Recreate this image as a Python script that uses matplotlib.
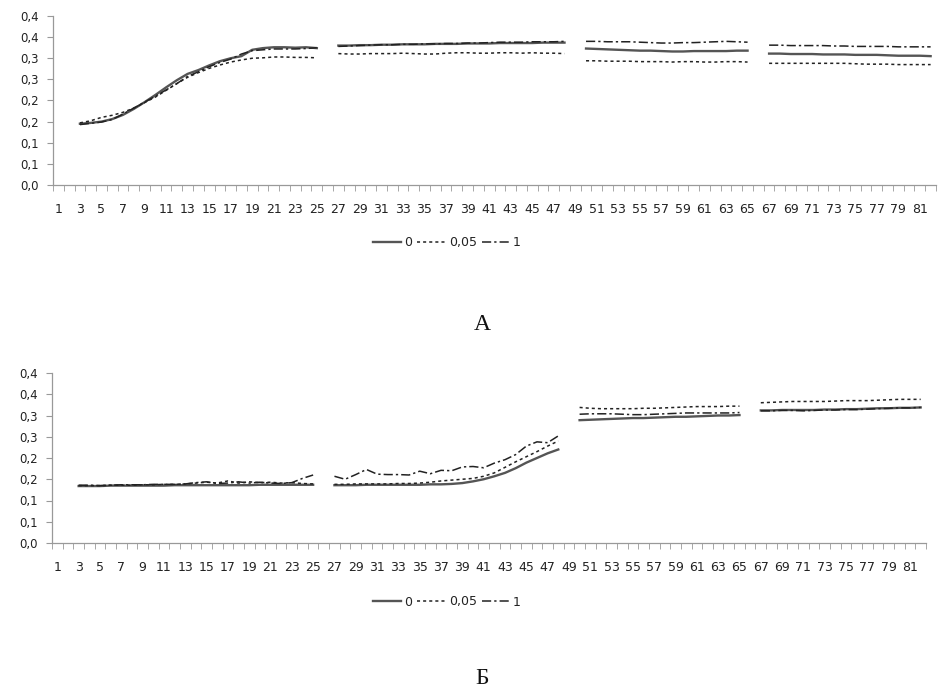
import numpy as np
import matplotlib
matplotlib.use('Agg')
import matplotlib.pyplot as plt


categories = np.arange(1, 83)
ytick_values = [0.0, 0.05, 0.10, 0.15, 0.20, 0.25, 0.30, 0.35, 0.40]
ytick_labels = ['0,0', '0,1', '0,1', '0,2', '0,2', '0,3', '0,3', '0,4', '0,4']
series_names = ['0', '0,05', '1']

# each series is four runs: 3-25, 27-48, 50-65, 67-82
a_0 = [
    [0.145, 0.147, 0.150, 0.156, 0.166, 0.180, 0.196, 0.213, 0.231, 0.248, 0.263,
     0.272, 0.283, 0.293, 0.300, 0.305, 0.320, 0.324, 0.326, 0.326, 0.325, 0.326, 0.324],
    [0.330, 0.330, 0.331, 0.331, 0.332, 0.332, 0.333, 0.333, 0.333, 0.334, 0.334,
     0.334, 0.335, 0.335, 0.335, 0.336, 0.336, 0.336, 0.336, 0.337, 0.337, 0.337],
    [0.323, 0.322, 0.321, 0.320, 0.319, 0.318, 0.318, 0.317, 0.316, 0.316, 0.317,
     0.317, 0.317, 0.317, 0.318, 0.318],
    [0.311, 0.311, 0.310, 0.310, 0.310, 0.309, 0.309, 0.309, 0.308, 0.308, 0.308,
     0.307, 0.306, 0.306, 0.306, 0.305],
]
a_005 = [
    [0.147, 0.152, 0.160, 0.165, 0.172, 0.182, 0.195, 0.208, 0.224, 0.240, 0.255,
     0.266, 0.276, 0.284, 0.291, 0.296, 0.300, 0.301, 0.303, 0.303, 0.302, 0.302, 0.301],
    [0.311, 0.310, 0.310, 0.311, 0.311, 0.311, 0.312, 0.311, 0.310, 0.310, 0.312,
     0.313, 0.313, 0.312, 0.312, 0.313, 0.313, 0.312, 0.313, 0.312, 0.312, 0.311],
    [0.294, 0.294, 0.293, 0.293, 0.293, 0.292, 0.292, 0.292, 0.291, 0.292, 0.292,
     0.291, 0.291, 0.292, 0.292, 0.291],
    [0.288, 0.288, 0.288, 0.288, 0.288, 0.288, 0.288, 0.288, 0.287, 0.286, 0.286,
     0.286, 0.285, 0.285, 0.285, 0.285],
]
a_1 = [
    [0.143, 0.146, 0.149, 0.155, 0.168, 0.182, 0.196, 0.210, 0.225, 0.240, 0.257,
     0.268, 0.280, 0.290, 0.298, 0.310, 0.318, 0.320, 0.322, 0.322, 0.322, 0.323, 0.325],
    [0.328, 0.329, 0.330, 0.331, 0.332, 0.332, 0.333, 0.333, 0.334, 0.334, 0.335,
     0.335, 0.336, 0.336, 0.337, 0.338, 0.338, 0.338, 0.339, 0.339, 0.339, 0.340],
    [0.340, 0.340, 0.339, 0.339, 0.339, 0.338, 0.337, 0.336, 0.336, 0.337, 0.337,
     0.338, 0.339, 0.340, 0.339, 0.338],
    [0.331, 0.331, 0.330, 0.330, 0.330, 0.330, 0.329, 0.329, 0.328, 0.328, 0.328,
     0.328, 0.327, 0.327, 0.327, 0.327],
]

b_0 = [
    [0.134, 0.134, 0.134, 0.135, 0.135, 0.135, 0.135, 0.135, 0.135, 0.136, 0.136,
     0.136, 0.136, 0.136, 0.136, 0.136, 0.136, 0.137, 0.137, 0.137, 0.137, 0.137, 0.137],
    [0.136, 0.136, 0.136, 0.137, 0.137, 0.137, 0.137, 0.137, 0.137, 0.138, 0.138,
     0.139, 0.141, 0.145, 0.150, 0.157, 0.165, 0.176, 0.189, 0.200, 0.211, 0.220],
    [0.289, 0.290, 0.291, 0.292, 0.293, 0.294, 0.294, 0.295, 0.296, 0.297, 0.297,
     0.298, 0.299, 0.300, 0.300, 0.301],
    [0.312, 0.312, 0.313, 0.313, 0.313, 0.313, 0.314, 0.314, 0.315, 0.315, 0.316,
     0.317, 0.317, 0.318, 0.318, 0.319],
]
b_005 = [
    [0.135, 0.135, 0.135, 0.136, 0.136, 0.136, 0.137, 0.137, 0.138, 0.138, 0.139,
     0.141, 0.143, 0.141, 0.146, 0.141, 0.144, 0.142, 0.143, 0.141, 0.142, 0.140, 0.139],
    [0.138, 0.138, 0.139, 0.139, 0.139, 0.139, 0.140, 0.140, 0.141, 0.143, 0.146,
     0.148, 0.150, 0.152, 0.157, 0.165, 0.178, 0.191, 0.203, 0.215, 0.228, 0.240],
    [0.319, 0.317, 0.316, 0.316, 0.316, 0.316, 0.317, 0.317, 0.318, 0.319, 0.320,
     0.321, 0.321, 0.321, 0.322, 0.322],
    [0.330, 0.331, 0.332, 0.333, 0.333, 0.333, 0.333, 0.334, 0.335, 0.335, 0.335,
     0.336, 0.337, 0.338, 0.338, 0.338],
]
b_1 = [
    [0.136, 0.136, 0.135, 0.136, 0.137, 0.137, 0.137, 0.138, 0.138, 0.138, 0.139,
     0.142, 0.144, 0.140, 0.141, 0.144, 0.141, 0.143, 0.141, 0.140, 0.142, 0.152, 0.160],
    [0.157, 0.150, 0.161, 0.173, 0.162, 0.161, 0.161, 0.160, 0.169, 0.163, 0.171,
     0.170, 0.179, 0.180, 0.177, 0.188, 0.196, 0.208, 0.228, 0.238, 0.236, 0.252],
    [0.303, 0.304, 0.304, 0.304, 0.303, 0.302, 0.302, 0.303, 0.304, 0.305, 0.306,
     0.306, 0.306, 0.306, 0.306, 0.307],
    [0.311, 0.311, 0.312, 0.312, 0.311, 0.312, 0.313, 0.313, 0.314, 0.314, 0.315,
     0.316, 0.317, 0.318, 0.318, 0.319],
]


def join_runs(runs):
    # categories 1-2 empty, one empty category between runs
    vals = [np.nan, np.nan]
    for i, r in enumerate(runs):
        if i > 0:
            vals += [np.nan]
        vals += r
    return np.array(vals)


styles = [
    dict(color='#555555', lw=1.7, linestyle='-'),
    dict(color='#222222', lw=1.1, linestyle=(0, (2, 2))),
    dict(color='#222222', lw=1.1, linestyle=(0, (6, 2, 1.5, 2))),
]


def draw_panel(ax, runs_list, legend_center):
    for runs, name, st in zip(runs_list, series_names, styles):
        ax.plot(categories, join_runs(runs), label=name, **st)

    ax.set_xlim(0.5, 82.5)
    ax.set_ylim(0, 0.4)
    ax.set_yticks(ytick_values)
    ax.set_yticklabels(ytick_labels)
    ax.set_xticks(categories[::2])
    ax.set_xticks(np.arange(0.5, 83, 1), minor=True)
    ax.tick_params(axis='x', which='major', length=0, pad=13,
                   labelsize=9, labelcolor='#222222')
    ax.tick_params(axis='x', which='minor', length=4, color='#999999', direction='out')
    ax.tick_params(axis='y', length=4, color='#999999', labelsize=8.5,
                   labelcolor='#222222', pad=6)
    for s in ['top', 'right']:
        ax.spines[s].set_visible(False)
    for s in ['left', 'bottom']:
        ax.spines[s].set_color('#999999')
        ax.spines[s].set_linewidth(0.9)

    fig = ax.figure
    fig.legend(*ax.get_legend_handles_labels(), loc='center',
               bbox_to_anchor=legend_center, ncol=3, frameon=False,
               fontsize=9, handlelength=2.2, handletextpad=0.3,
               columnspacing=0.4, labelcolor='#222222')


fig = plt.figure(figsize=(9.45, 6.92), dpi=100)
W, H = 945, 692

ax_a = fig.add_axes([53 / W, 1 - 185 / H, (936 - 53) / W, (185 - 16) / H])
ax_b = fig.add_axes([52 / W, 1 - 543 / H, (926 - 52) / W, (543 - 373) / H])

draw_panel(ax_a, [a_0, a_005, a_1], (447 / W, 1 - 243 / H))
draw_panel(ax_b, [b_0, b_005, b_1], (447 / W, 1 - 602 / H))

fig.text(482 / W, 1 - 324 / H, 'А', ha='center', va='center',
         fontsize=17, family='Liberation Serif', color='#111111')
fig.text(482 / W, 1 - 678 / H, 'Б', ha='center', va='center',
         fontsize=17, family='Liberation Serif', color='#111111')

plt.savefig('out.png', dpi=100)
